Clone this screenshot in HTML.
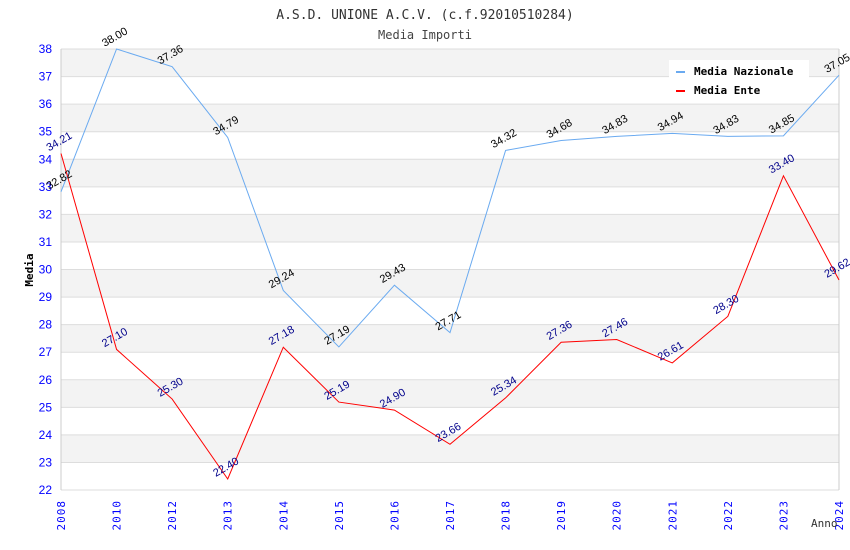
<!DOCTYPE html>
<html><head><meta charset="utf-8"><style>
body{margin:0;background:#fff}
svg{display:block;font-family:"DejaVu Sans Mono","Liberation Mono",monospace}
</style></head><body>
<svg id="c" width="850" height="550" xmlns="http://www.w3.org/2000/svg">
<text x="425" y="19" text-anchor="middle" font-size="13" fill="#333">A.S.D. UNIONE A.C.V. (c.f.92010510284)</text>
<text x="425" y="39" text-anchor="middle" font-size="12" fill="#444">Media Importi</text>
<g id="bands"></g><g id="yt"></g><g id="xt"></g><g id="lines"></g><g id="labels"></g>
<text x="33" y="270" transform="rotate(-90 33 270)" text-anchor="middle" font-size="11" font-weight="bold" fill="#000">Media</text>
<text x="811" y="527" font-size="11" fill="#333">Anno</text>
<g>
<rect x="669" y="60" width="140" height="42" fill="#fff"/>
<g><rect x="676" y="71" width="9" height="2" fill="#6aaaf0"/><text x="694" y="75" font-size="11" font-weight="bold" fill="#000">Media Nazionale</text></g>
<g><rect x="676" y="90" width="9" height="2" fill="#f00"/><text x="694" y="94" font-size="11" font-weight="bold" fill="#000">Media Ente</text></g>
</g>
</svg>
<script>
const years=["2008","2010","2012","2013","2014","2015","2016","2017","2018","2019","2020","2021","2022","2023","2024"];
const nazionale=[32.82,38.00,37.36,34.79,29.24,27.19,29.43,27.71,34.32,34.68,34.83,34.94,34.83,34.85,37.05];
const ente=[34.21,27.10,25.30,22.40,27.18,25.19,24.90,23.66,25.34,27.36,27.46,26.61,28.30,33.40,29.62];
const yTicks=[22,23,24,25,26,27,28,29,30,31,32,33,34,35,36,37,38];
const X0=61,X1=839,Y0=49,Y1=490,YMIN=22,YMAX=38;
const NS="http://www.w3.org/2000/svg";
const xs=i=>X0+(X1-X0)*i/(years.length-1);
const ys=v=>Y1-(v-YMIN)/(YMAX-YMIN)*(Y1-Y0);
function mk(tag,attrs,parent,txt){const e=document.createElementNS(NS,tag);for(const k in attrs)e.setAttribute(k,attrs[k]);if(txt!=null)e.textContent=txt;document.getElementById(parent).appendChild(e);return e;}
for(let i=0;i<yTicks.length-1;i++){
 const a=yTicks[i],b=yTicks[i+1];
 const r=mk('rect',{x:X0,y:ys(b),width:X1-X0,height:ys(a)-ys(b),fill:(i%2===1)?'#f3f3f3':'#fff'},'bands');
 
 
}
yTicks.forEach(t=>{
 const l=mk('line',{x1:X0,x2:X1,y1:ys(t),y2:ys(t),stroke:'#ddd','stroke-width':1},'bands');
 
 
 const tx=mk('text',{x:52,y:ys(t)+4,'text-anchor':'end','font-size':12,fill:'#00f','font-family':'Liberation Sans, sans-serif'},'yt',t);
 
 
});
mk('line',{x1:X0,x2:X0,y1:Y0,y2:Y1,stroke:'#ccc'},'bands');
mk('line',{x1:X1,x2:X1,y1:Y0,y2:Y1,stroke:'#ccc'},'bands');
years.forEach((y,i)=>{
 const x=xs(i)+4,yy=500;
 const t=mk('text',{x:x,y:yy,transform:`rotate(-90 ${x} ${yy})`,'text-anchor':'end','font-size':11,fill:'#00f','letter-spacing':'1'},'xt',y);
 
 
});
function series(vals,color,lc,name){
 const p=mk('polyline',{points:vals.map((v,i)=>xs(i)+','+ys(v)).join(' '),fill:'none',stroke:color,'stroke-width':1},'lines');
 
 
 vals.forEach((v,i)=>{
  const x=xs(i)-12,y=ys(v)-2;
  const t=mk('text',{x:x,y:y,transform:`rotate(-30 ${x} ${y})`,'font-size':11,fill:lc,'font-family':'Liberation Sans, sans-serif'},'labels',v.toFixed(2));
  
  
 });
}
series(nazionale,'#6aaaf0','#000','nazionale');
series(ente,'#f00','#00008b','ente');
</script>
</body></html>
